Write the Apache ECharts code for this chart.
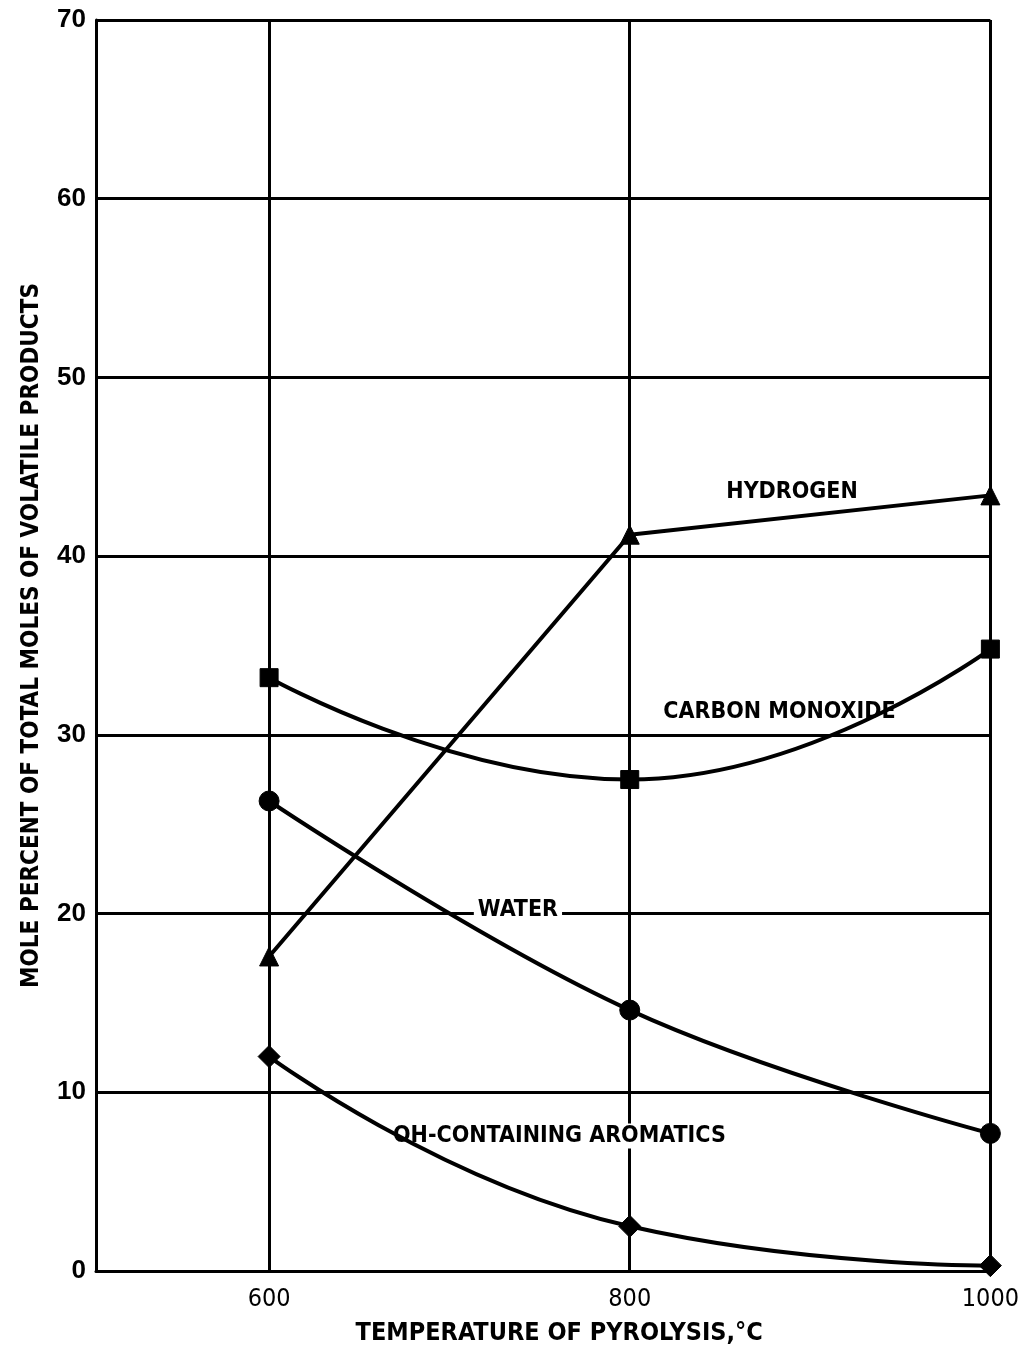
<!DOCTYPE html>
<html>
<head>
<meta charset="utf-8">
<script src="https://cdn.jsdelivr.net/npm/echarts@6/dist/echarts.min.js"></script>
<style>
html,body{margin:0;padding:0;background:#fff;}
#chart{width:1022px;height:1351px;}
</style>
</head>
<body>
<div id="chart"></div>
<script>
var temps = [600, 800, 1000];
var hydrogen = [17.6, 41.2, 43.4];
var carbonMonoxide = [33.2, 27.5, 34.8];
var water = [26.3, 14.6, 7.7];
var ohAromatics = [12.0, 2.5, 0.3];
var xTicks = [600, 800, 1000];
var yTicks = [0, 10, 20, 30, 40, 50, 60, 70];

var labels = [
  {text: 'HYDROGEN', coord: [890, 43.6]},
  {text: 'CARBON MONOXIDE', coord: [883, 31.3]},
  {text: 'WATER', coord: [738, 20.2]},
  {text: 'OH-CONTAINING AROMATICS', coord: [761, 7.55]}
];

var NARROW = '"Liberation Sans Narrow", "DejaVu Sans Condensed", "Liberation Sans", sans-serif';
var SANS = '"Liberation Sans", Arial, Helvetica, sans-serif';

function pairs(v) { return temps.map(function (t, i) { return [t, v[i]]; }); }

function mkSeries(name, data, symbol, size, smooth) {
  return {
    name: name, type: 'line', data: pairs(data), smooth: smooth,
    symbol: symbol, symbolSize: size, showSymbol: true,
    lineStyle: {color: '#000', width: 4},
    itemStyle: {color: '#000', borderColor: '#000', borderWidth: 1},
    z: 5
  };
}

var series = [
  mkSeries('Hydrogen', hydrogen, 'triangle', 19, false),
  mkSeries('Carbon monoxide', carbonMonoxide, 'rect', 18, 0.5),
  mkSeries('Water', water, 'circle', 20, 0.4),
  mkSeries('OH-containing aromatics', ohAromatics, 'diamond', 22, 0.5)
];

series.push({
  type: 'line', data: [], silent: true,
  markLine: {
    silent: true, symbol: 'none', animation: false,
    label: {show: false},
    lineStyle: {color: '#000', width: 3, type: 'solid'},
    data: xTicks.map(function (t) { return {xAxis: t}; })
  },
  z: 2
});
series.push({
  type: 'scatter', data: [], silent: true,
  markPoint: {
    symbol: 'circle', symbolSize: 0, animation: false,
    label: {
      show: true, position: 'inside', color: '#000',
      fontFamily: NARROW, fontSize: 23, fontWeight: 'bold',
      backgroundColor: '#fff', padding: [1, 4],
      formatter: function (p) { return p.name; }
    },
    data: labels.map(function (l) { return {name: l.text, coord: l.coord}; })
  },
  z: 4
});

var chart = echarts.init(document.getElementById('chart'), null, {renderer: 'canvas'});
chart.setOption({
  backgroundColor: '#fff',
  animation: false,
  grid: {left: 96, top: 20, width: 897, height: 1252, containLabel: false},
  xAxis: {
    type: 'value', min: 504, max: 1000,
    name: 'TEMPERATURE OF PYROLYSIS,°C', nameLocation: 'middle', nameGap: 50,
    nameTextStyle: {fontFamily: NARROW, fontSize: 25, fontWeight: 'bold', color: '#000', padding: [0, 0, 0, 32]},
    axisLine: {show: true, onZero: false, lineStyle: {color: '#000', width: 3}},
    axisTick: {show: false},
    splitLine: {show: false},
    axisLabel: {
      customValues: xTicks,
      fontFamily: NARROW, fontSize: 25, color: '#000', margin: 16,
      formatter: function (v) { return String(v); }
    }
  },
  yAxis: {
    type: 'value', min: 0, max: 70, interval: 10,
    name: 'MOLE PERCENT OF TOTAL MOLES OF VOLATILE PRODUCTS', nameLocation: 'middle', nameGap: 52,
    nameTextStyle: {fontFamily: NARROW, fontSize: 24, fontWeight: 'bold', color: '#000', padding: [0, 0, 0, 20]},
    axisLine: {show: true, lineStyle: {color: '#000', width: 3}},
    axisTick: {show: false},
    splitLine: {show: true, lineStyle: {color: '#000', width: 3}},
    axisLabel: {fontFamily: SANS, fontSize: 26, fontWeight: 'bold', color: '#000', margin: 10}
  },
  series: series
});
</script>
</body>
</html>
